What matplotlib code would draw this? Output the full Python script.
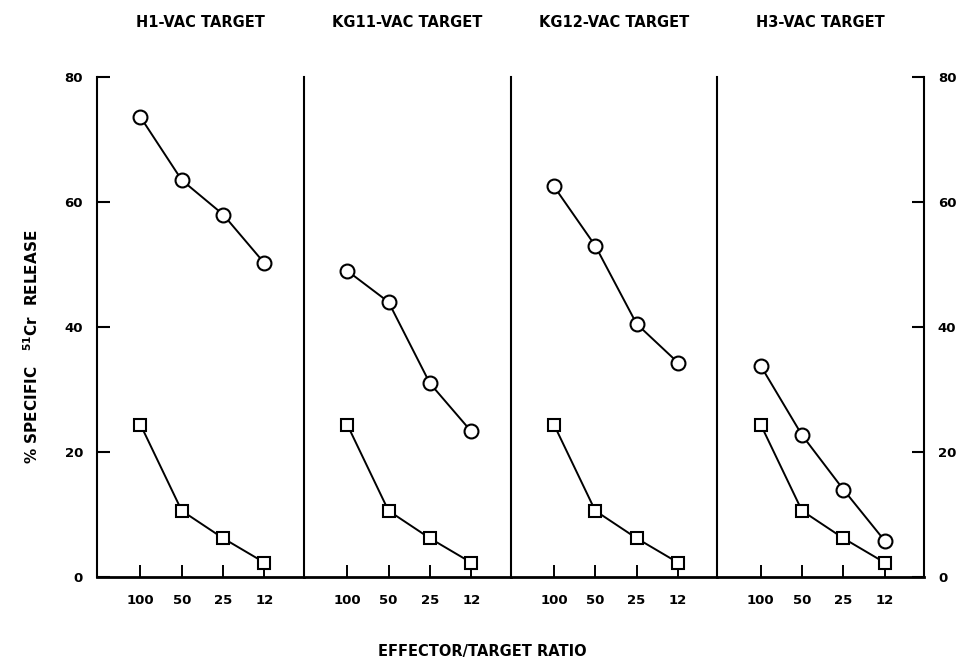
import matplotlib
matplotlib.use("Agg")
import matplotlib.pyplot as plt
import numpy as np

plt.rcParams['font.family'] = ['DejaVu Sans']
plt.rcParams['font.weight'] = 'bold'

# dữ liệu
titles = ["H1-VAC TARGET", "KG11-VAC TARGET", "KG12-VAC TARGET", "H3-VAC TARGET"]
ratios = ["100", "50", "25", "12"]
circles_h1 = [73.6, 63.5, 58.0, 50.2]
circles_kg11 = [49.0, 44.0, 31.0, 23.3]
circles_kg12 = [62.5, 53.0, 40.5, 34.3]
circles_h3 = [33.8, 22.7, 14.0, 5.8]
squares = [24.4, 10.6, 6.2, 2.3]
circles = [circles_h1, circles_kg11, circles_kg12, circles_h3]

fig = plt.figure(figsize=(9.64, 6.59), dpi=100)
left, right, bottom, top = 97/964, 924/964, 1-577/659, 1-77/659
w = (right-left)/4
x = np.arange(1, 5)

for i in range(4):
    ax = fig.add_axes([left+i*w, bottom, w, top-bottom])
    ax.plot(x, circles[i], color='black', lw=1.4, marker='o', ms=10,
            mfc='white', mec='black', mew=1.5, zorder=3)
    ax.plot(x, squares, color='black', lw=1.4, marker='s', ms=8,
            mfc='white', mec='black', mew=1.5, zorder=3)
    ax.set_xlim(-0.05, 4.95)
    ax.set_ylim(0, 80)
    ax.set_xticks(x)
    ax.set_xticklabels(ratios, fontsize=9.5, fontweight='bold')
    ax.tick_params(axis='x', direction='in', length=9, width=1.4, pad=12)
    ax.spines['top'].set_visible(False)
    ax.spines['right'].set_visible(i == 3)
    ax.spines['bottom'].set_linewidth(2)
    ax.spines['left'].set_linewidth(1.5)
    ax.spines['right'].set_linewidth(1.5)
    ax.set_yticks([0, 20, 40, 60, 80])
    if i == 0:
        ax.tick_params(axis='y', direction='in', length=9, width=1.5, pad=10,
                       labelsize=9.5)
    elif i == 3:
        ax.yaxis.tick_right()
        ax.tick_params(axis='y', direction='in', length=9, width=1.5, pad=10,
                       labelsize=9.5, left=False, labelleft=False)
    else:
        ax.tick_params(axis='y', left=False, labelleft=False)
    ax.set_title(titles[i], fontsize=10.5, fontweight='bold', pad=36)

fig.text(0.033, 0.473, "% SPECIFIC   $^{\\mathbf{51}}$Cr  RELEASE", rotation=90,
         ha='center', va='center', fontsize=11, fontweight='bold')
fig.text(0.5, 0.0115, "EFFECTOR/TARGET RATIO", ha='center', va='center',
         fontsize=10.5, fontweight='bold')

fig.savefig("out.png", dpi=100)
